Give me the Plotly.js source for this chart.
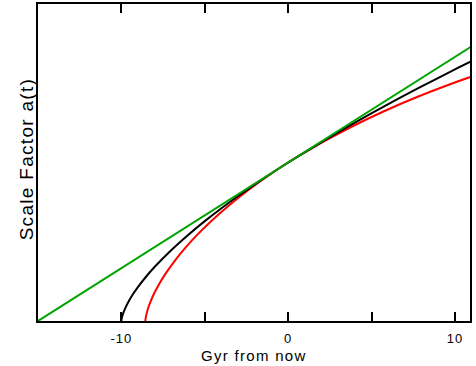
<!DOCTYPE html>
<html>
<head>
<meta charset="utf-8">
<script src="https://cdn.plot.ly/plotly-3.0.1.min.js"></script>
<style>
html,body{margin:0;padding:0;background:#fff;}
#chart{width:476px;height:366px;}
.xtick text{letter-spacing:1px;}
.annotation-text{letter-spacing:1.3px;}
</style>
</head>
<body>
<div id="chart"></div>
<script>
// Gyr from now and scale factor a(t)
const tGreen = [-15, 11];
const aGreen = [0, 1.7333];

const tBlack = [-10, -9.99, -9.95, -9.9, -9.8, -9.6, -9.3, -9, -8.5, -8, -7, -6, -5, -4, -3, -2, -1, 0, 2, 4, 6, 8, 10, 11];
const aBlack = [0, 0.01, 0.0292, 0.0464, 0.0737, 0.117, 0.1699, 0.2154, 0.2823, 0.342, 0.4481, 0.5429, 0.63, 0.7114, 0.7884, 0.8618, 0.9322, 1, 1.1292, 1.2515, 1.368, 1.4797, 1.5874, 1.6399];

const tRed = [-8.562, -8.5595, -8.542, -8.495, -8.403, -8.253, -8.032, -7.725, -7.322, -6.812, -6.184, -5.43, -4.543, -3.515, -2.344, -1.024, 0, 0.444, 2.063, 3.83, 5.744, 7.799, 9.99, 11.135];
const aRed = [0, 0.005, 0.0199, 0.0447, 0.0789, 0.1224, 0.1747, 0.2352, 0.3033, 0.3784, 0.4597, 0.5464, 0.6376, 0.7325, 0.83, 0.9293, 1, 1.0292, 1.1288, 1.2272, 1.3233, 1.4162, 1.5049, 1.5474];

const xTickVals = [-10, -5, 0, 5, 10];
const xTickText = ['-10', '', '0', '', '10'];
const xTitle = 'Gyr from now';
const yTitle = 'Scale Factor a(t)';

const traces = [
  {x: tRed, y: aRed, mode: 'lines', line: {color: '#ff0000', width: 2, shape: 'spline'}, hoverinfo: 'none'},
  {x: tBlack, y: aBlack, mode: 'lines', line: {color: '#000000', width: 2, shape: 'spline'}, hoverinfo: 'none'},
  {x: tGreen, y: aGreen, mode: 'lines', line: {color: '#00a400', width: 2}, hoverinfo: 'none'}
];

const layout = {
  width: 476, height: 366,
  margin: {l: 38, r: 6, t: 4, b: 45},
  paper_bgcolor: '#ffffff', plot_bgcolor: '#ffffff',
  showlegend: false,
  font: {family: '"Liberation Sans", Arial, sans-serif', color: '#000'},
  xaxis: {
    range: [-15, 10.9],
    tickmode: 'array',
    tickvals: xTickVals,
    ticktext: xTickText,
    ticks: 'inside', ticklen: 9, tickwidth: 2, tickcolor: '#000',
    ticklabelstandoff: 4,
    showline: true, linecolor: '#000', linewidth: 2, mirror: 'allticks',
    showgrid: false, zeroline: false,
    tickfont: {size: 13, color: '#000'}
  },
  yaxis: {
    range: [0, 2],
    showticklabels: false, ticks: '',
    showline: true, linecolor: '#000', linewidth: 2, mirror: true,
    showgrid: false, zeroline: false
  },
  annotations: [
    {text: xTitle, xref: 'paper', yref: 'paper', x: 0.50, y: -0.110, xanchor: 'center', yanchor: 'middle',
     showarrow: false, font: {size: 15, color: '#000'}},
    {text: yTitle, xref: 'paper', yref: 'paper', x: -0.027, y: 0.511, xanchor: 'center', yanchor: 'middle',
     textangle: -90, showarrow: false, font: {size: 19, color: '#000'}}
  ]
};

Plotly.newPlot('chart', traces, layout, {staticPlot: true, displayModeBar: false});
</script>
</body>
</html>
